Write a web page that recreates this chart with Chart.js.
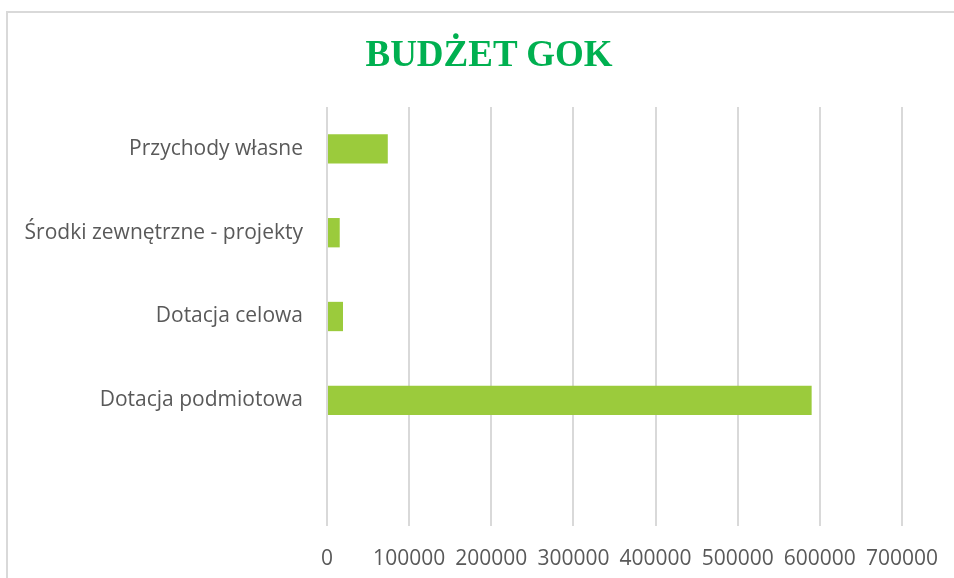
<!DOCTYPE html>
<html>
<head>
<meta charset="utf-8">
<script src="https://cdn.jsdelivr.net/npm/chart.js@4"></script>
<style>
  html, body {
    margin: 0;
    padding: 0;
    background: white;
    overflow: hidden;
    width: 954px;
    height: 578px;
  }
  .frame {
    position: absolute;
    left: 6px;
    top: 11px;
    width: 1000px;
    height: 600px;
    border: 2px solid #d9d9d9;
  }
  .title {
    position: absolute;
    left: 0;
    top: 35px;
    width: 978px;
    text-align: center;
    font-family: 'Liberation Serif', serif;
    font-weight: bold;
    font-size: 37px;
    line-height: 1;
    color: #00b050;
    white-space: nowrap;
  }
  #chart {
    position: absolute;
    left: 0;
    top: 0;
  }
</style>
</head>
<body>
<div class="frame"></div>
<canvas id="chart" width="978" height="578"></canvas>
<div class="title">BUDŻET GOK</div>
<script>
const categories = [
  'Przychody własne',
  'Środki zewnętrzne - projekty',
  'Dotacja celowa',
  'Dotacja podmiotowa',
  ''
];
const budget = [74000, 15500, 19500, 590000, null];
const xTicks = [0, 100000, 200000, 300000, 400000, 500000, 600000, 700000];

const ctx = document.getElementById('chart').getContext('2d');

new Chart(ctx, {
  type: 'bar',
  data: {
    labels: categories,
    datasets: [{
      data: budget,
      backgroundColor: '#9bcb3c',
      borderWidth: 0,
      categoryPercentage: 1,
      barPercentage: 0.35
    }]
  },
  options: {
    indexAxis: 'y',
    responsive: false,
    animation: false,
    devicePixelRatio: 1,
    layout: {
      padding: { top: 107, left: 0, right: 76, bottom: 0 }
    },
    scales: {
      x: {
        min: xTicks[0],
        max: xTicks[xTicks.length - 1],
        afterBuildTicks: (axis) => {
          axis.ticks = xTicks.map(v => ({ value: v }));
        },
        afterFit: (axis) => { axis.height = 52; },
        grid: {
          color: '#d9d9d9',
          lineWidth: 2,
          drawTicks: false
        },
        border: { display: false },
        ticks: {
          padding: 20,
          color: '#595959',
          font: { family: 'Open Sans', size: 21 },
          maxRotation: 0,
          autoSkip: false,
          callback: (v) => String(v)
        }
      },
      y: {
        afterFit: (axis) => { axis.width = 327; },
        grid: { display: false, drawTicks: false },
        border: { display: false },
        ticks: {
          padding: 24,
          color: '#595959',
          font: { family: 'Open Sans', size: 21 },
          autoSkip: false
        }
      }
    },
    plugins: {
      legend: { display: false },
      tooltip: { enabled: false },
      title: { display: false }
    }
  }
});
</script>
</body>
</html>
